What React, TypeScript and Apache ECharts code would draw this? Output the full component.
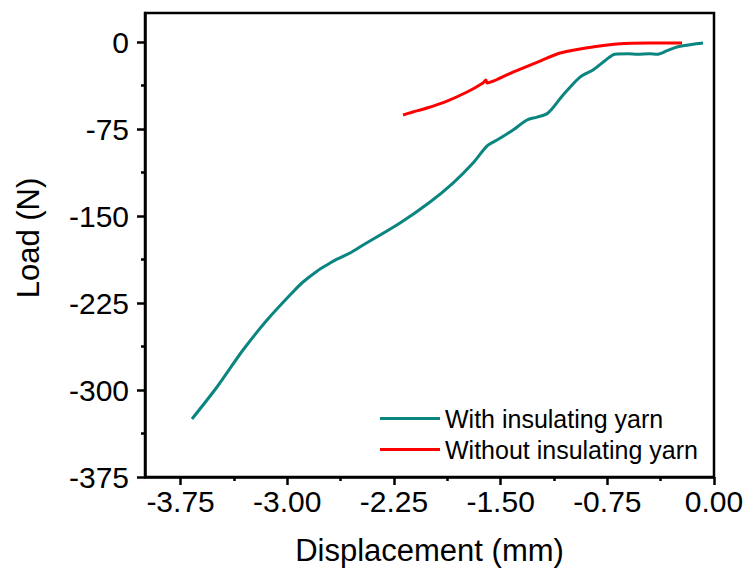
import React, { useEffect, useRef } from "react";
import * as echarts from "echarts";

const withX = [-3.67, -3.494, -3.311, -3.142, -2.96, -2.889, -2.791, -2.721, -2.65, -2.559, -2.467, -2.207, -1.996, -1.835, -1.694, -1.596, -1.525, -1.413, -1.315, -1.244, -1.167, -1.061, -0.942, -0.851, -0.76, -0.696, -0.6, -0.541, -0.45, -0.401, -0.33, -0.26, -0.16, -0.077];
const withY = [-325, -297.4, -265.5, -239.7, -215.5, -206.9, -197.6, -192.2, -187.2, -181.9, -175, -156, -137.9, -121.6, -104.3, -89.7, -84.5, -75.9, -67.2, -64.7, -61.2, -45.7, -30.2, -24.1, -15.5, -10.5, -10.2, -10.6, -10.2, -10.6, -7.5, -4.3, -2.2, -0.9];

const withoutX = [-2.186, -2.116, -2.018, -1.877, -1.736, -1.624, -1.603, -1.596, -1.413, -1.223, -1.083, -0.942, -0.851, -0.682, -0.45, -0.225];
const withoutY = [-62.9, -60.3, -56.9, -50.9, -43.1, -35.3, -32.8, -35.3, -25.9, -16.4, -9.5, -6.0, -4.3, -1.7, -0.9, -0.9];

const xTickValues = [-3.75, -3.0, -2.25, -1.5, -0.75, 0];
const xMinorValues = [-3.375, -2.625, -1.875, -1.125, -0.375];
const yTickValues = [-375, -300, -225, -150, -75, 0];
const yMinorValues = [-337.5, -262.5, -187.5, -112.5, -37.5];

const seriesNames = ["With insulating yarn", "Without insulating yarn"];

const FONT = "'Liberation Sans', Arial, sans-serif";

export default function App() {
  const ref = useRef<HTMLDivElement>(null);
  useEffect(() => {
    document.body.style.margin = "0";
    const chart = echarts.init(ref.current!, null, { renderer: "svg" });
    const axisLineStyle = { color: "#000", width: 2.5 };
    const fmt = (v: number) => (v === 0 ? "0.00" : v.toFixed(2));
    chart.setOption({
      animation: false,
      backgroundColor: "#fff",
      grid: {
        left: 145,
        right: 35,
        top: 13,
        bottom: 97,
        show: true,
        borderColor: "#000",
        borderWidth: 2.5,
      },
      legend: {
        orient: "vertical",
        left: 380,
        top: 406,
        padding: 0,
        itemWidth: 60,
        itemHeight: 3,
        itemGap: 6,
        icon: "rect",
        textStyle: { fontFamily: FONT, fontSize: 25, color: "#000", lineHeight: 25 },
        data: seriesNames,
      },
      xAxis: [
        {
          type: "value",
          min: -4,
          max: 0,
          position: "bottom",
          name: "Displacement (mm)",
          nameLocation: "middle",
          nameGap: 58,
          nameTextStyle: { fontFamily: FONT, fontSize: 31, color: "#000" },
          axisLine: { show: true, onZero: false, lineStyle: axisLineStyle },
          axisTick: { show: true, inside: false, length: 8, lineStyle: { color: "#000", width: 2.5 }, customValues: xTickValues },
          axisLabel: { fontFamily: FONT, fontSize: 30, color: "#000", margin: 9, customValues: xTickValues, formatter: fmt },
          splitLine: { show: false },
        },
        {
          type: "value",
          min: -4,
          max: 0,
          position: "bottom",
          axisLine: { show: false, onZero: false },
          axisTick: { show: true, inside: false, length: 4, lineStyle: { color: "#000", width: 2.5 }, customValues: xMinorValues },
          axisLabel: { show: false },
          splitLine: { show: false },
        },
      ],
      yAxis: [
        {
          type: "value",
          min: -375,
          max: 25,
          interval: 75,
          position: "left",
          name: "Load (N)",
          nameLocation: "middle",
          nameGap: 101,
          nameTextStyle: { fontFamily: FONT, fontSize: 31, color: "#000", padding: [0, 0, 0, 14] },
          axisLine: { show: true, onZero: false, lineStyle: axisLineStyle },
          axisTick: { show: true, inside: false, length: 8, lineStyle: { color: "#000", width: 2.5 }, customValues: yTickValues },
          axisLabel: { fontFamily: FONT, fontSize: 30, color: "#000", margin: 16, customValues: yTickValues },
          splitLine: { show: false },
        },
        {
          type: "value",
          min: -375,
          max: 25,
          position: "left",
          axisLine: { show: false, onZero: false },
          axisTick: { show: true, inside: false, length: 4, lineStyle: { color: "#000", width: 2.5 }, customValues: yMinorValues },
          axisLabel: { show: false },
          splitLine: { show: false },
        },
      ],
      series: [
        {
          name: seriesNames[0],
          type: "line",
          xAxisIndex: 0,
          yAxisIndex: 0,
          showSymbol: false,
          symbol: "none",
          smooth: 0.3,
          color: "#0B8580",
          lineStyle: { width: 3, color: "#0B8580" },
          data: withX.map((x, i) => [x, withY[i]]),
        },
        {
          name: seriesNames[1],
          type: "line",
          xAxisIndex: 0,
          yAxisIndex: 0,
          showSymbol: false,
          symbol: "none",
          smooth: 0.2,
          color: "#FF0000",
          lineStyle: { width: 3, color: "#FF0000" },
          data: withoutX.map((x, i) => [x, withoutY[i]]),
        },
      ],
    });
    return () => chart.dispose();
  }, []);
  return <div ref={ref} style={{ width: 749, height: 574 }} />;
}
